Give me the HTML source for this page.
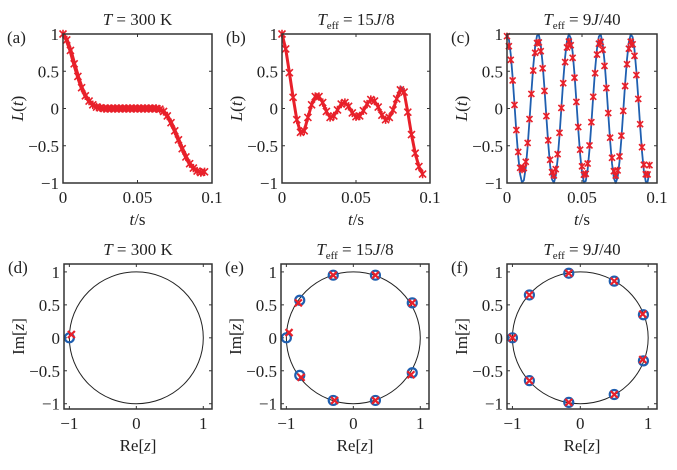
<!DOCTYPE html>
<html><head><meta charset="utf-8"><style>
html,body{margin:0;padding:0;background:#fff;}
svg{display:block;font-family:"Liberation Serif",serif;}
</style></head><body>
<svg id="fig" width="677" height="470" viewBox="0 0 677 470"></svg>
<script>
const tA=[0,.0025,.005,.0075,.01,.0125,.015,.0175,.02,.0225,.025,.0275,.03,.0325,.035,.0375,.04,.0425,.045,.0475,.05,.0525,.055,.0575,.06,.0625,.065,.0675,.07,.0725,.075,.0775,.08,.0825,.085,.0875,.09,.0925,.095];
const La=[1,.92,.78,.6,.43,.28,.17,.1,.05,.02,.01,0,0,0,0,0,0,0,0,0,0,0,0,0,0,0,-.01,-.04,-.1,-.19,-.3,-.42,-.54,-.65,-.74,-.8,-.84,-.86,-.85];
const LbRed=[1,.8,.48,.15,-.15,-.32,-.3,-.12,.05,.16,.16,.08,-.04,-.12,-.1,-.02,.06,.08,.03,-.06,-.11,-.1,-.03,.06,.12,.1,.02,-.09,-.15,-.12,-.02,.13,.25,.22,-.05,-.35,-.6,-.78,-.88];
const LbBlue=[1,.8,.48,.15,-.15,-.33,-.3,-.12,.05,.16,.16,.08,-.04,-.12,-.1,-.02,.06,.08,.03,-.06,-.11,-.1,-.03,.06,.12,.1,.02,-.09,-.15,-.12,-.02,.14,.3,.24,-.05,-.35,-.6,-.78,-.88];
const tC=[0,.00125,.0025,.00375,.005,.00625,.0075,.00875,.01,.01125,.0125,.01375,.015,.01625,.0175,.01875,.02,.02125,.0225,.02375,.025,.02625,.0275,.02875,.03,.03125,.0325,.03375,.035,.03625,.0375,.03875,.04,.04125,.0425,.04375,.045,.04625,.0475,.04875,.05,.05125,.0525,.05375,.055,.05625,.0575,.05875,.06,.06125,.0625,.06375,.065,.06625,.0675,.06875,.07,.07125,.0725,.07375,.075,.07625,.0775,.07875,.08,.08125,.0825,.08375,.085,.08625,.0875,.08875,.09,.09125,.0925,.09375,.095];
const LcBlue=[1,.929,.726,.419,.053,-.321,-.648,-.884,-.994,-.963,-.794,-.514,-.158,.218,.565,.83,.977,.986,.854,.6,.262,-.113,-.474,-.766,-.95,-.998,-.905,-.682,-.363,.009,.378,.693,.911,.999,.944,.756,.46,.098,-.277,-.614,-.862,-.988,-.974,-.821,-.551,-.203,.174,.527,.804,.967,.993,.877,.636,.306,-.069,-.434,-.736,-.935,-1,-.923,-.714,-.405,-.037,.335,.661,.892,.996,.958,.785,.499,.143,-.233,-.578,-.839,-.981,-.983,-.846];
const LcRed=[.97,.836,.653,.377,.048,-.289,-.583,-.796,-.82,-.8,-.715,-.463,-.142,.196,.509,.747,.879,.887,.769,.54,.236,-.102,-.427,-.689,-.855,-.898,-.815,-.614,-.327,.008,.34,.624,.82,.899,.85,.68,.414,.088,-.249,-.553,-.776,-.889,-.877,-.739,-.496,-.183,.157,.474,.724,.87,.894,.789,.572,.275,-.062,-.391,-.662,-.842,-.9,-.831,-.643,-.365,-.033,.302,.595,.803,.896,.862,.707,.449,.129,-.21,-.52,-.755,-.883,-.885,-.761];
const dBlueRe=[-1], dBlueIm=[0], dRedRe=[-.97], dRedIm=[.05];
const eBlueRe=[-1,-.8,-.3,.33,.88,.88,.33,-.3,-.8], eBlueIm=[0,.57,.95,.95,.53,-.53,-.95,-.95,-.57];
const eRedRe=[-.96,-.82,-.3,.33,.88,.86,.33,-.28,-.78], eRedIm=[.08,.53,.95,.95,.53,-.56,-.95,-.95,-.6];
const fBlueRe=[-1,-.75,-.17,.5,.93,.93,.5,-.17,-.75], fBlueIm=[0,.65,.98,.86,.35,-.35,-.86,-.98,-.65];
const fRedRe=[-1,-.75,-.17,.5,.92,.92,.5,-.17,-.75], fRedIm=[0,.65,.98,.86,.36,-.33,-.86,-.98,-.65];
const xTicksTop=[0,.05,.1], xTickLabTop=["0","0.05","0.1"];
const yTicksTop=[-1,-.5,0,.5,1], yTickLabTop=["\u22121","\u22120.5","0","0.5","1"];
const reTicks=[-1,0,1], reTickLab=["\u22121","0","1"];
const imTicks=[-1,-.5,0,.5,1], imTickLab=["\u22121","\u22120.5","0","0.5","1"];

const NS="http://www.w3.org/2000/svg", svgEl=document.getElementById('fig');
function mk(tag,attrs,parent){const e=document.createElementNS(NS,tag);for(const k in attrs)e.setAttribute(k,attrs[k]);(parent||svgEl).appendChild(e);return e;}
function txt(s,x,y,attrs,parent){const e=mk('text',Object.assign({x:x,y:y,'font-size':17,fill:'#222'},attrs||{}),parent);e.innerHTML=s;return e;}

function panel(p){
  const g=mk('g',{});
  
  
  const sx=v=>p.x0+(v-p.xl[0])/(p.xl[1]-p.xl[0])*(p.x1-p.x0);
  const sy=v=>p.y1-(v-p.yl[0])/(p.yl[1]-p.yl[0])*(p.y1-p.y0);
  p.xt.forEach((v,i)=>{const x=sx(v);
    mk('line',{x1:x,x2:x,y1:p.y1,y2:p.y1-3,stroke:'#333'},g);mk('line',{x1:x,x2:x,y1:p.y0,y2:p.y0+3,stroke:'#333'},g);
    const t=txt(p.xtl[i],x,p.y1+20,{'text-anchor':'middle'},g);
    });
  p.yt.forEach((v,i)=>{const y=sy(v);
    mk('line',{x1:p.x0,x2:p.x0+3,y1:y,y2:y,stroke:'#333'},g);mk('line',{x1:p.x1,x2:p.x1-3,y1:y,y2:y,stroke:'#333'},g);
    const t=txt(p.ytl[i],p.x0-4,y+6,{'text-anchor':'end'},g);
    });
  if(p.circle){const c=mk('ellipse',{cx:sx(0),cy:sy(0),rx:sx(1)-sx(0),ry:sy(0)-sy(1),fill:'none',stroke:'#222','stroke-width':1},g);
    }
  if(p.line){p.line.forEach(L=>{
    const pts=L.ys.map((v,i)=>sx(L.xs[i])+','+sy(v)).join(' ');
    const pl=mk('polyline',{points:pts,fill:'none',stroke:L.c,'stroke-width':L.w,'stroke-linejoin':'round'},g);
    });}
  if(p.stars){p.stars.forEach(S=>{S.ys.forEach((v,i)=>{const x=sx(S.xs[i]),y=sy(v),r=S.r;
    const m=mk('path',{d:`M${x-r},${y-r}L${x+r},${y+r}M${x-r},${y+r}L${x+r},${y-r}M${x},${y-r*1.2}L${x},${y+r*1.2}`,stroke:'#e8202a','stroke-width':1.6},g);
    });});}
  if(p.circ){p.circ.forEach(S=>{S.ys.forEach((v,i)=>{
    const m=mk('circle',{cx:sx(S.xs[i]),cy:sy(v),r:4.5,fill:'none',stroke:'#1f5fb0','stroke-width':2.2},g);
    });});}
  if(p.cross){p.cross.forEach(S=>{S.ys.forEach((v,i)=>{const x=sx(S.xs[i]),y=sy(v),r=3.5;
    const m=mk('path',{d:`M${x-r},${y-r}L${x+r},${y+r}M${x-r},${y+r}L${x+r},${y-r}`,stroke:'#e8202a','stroke-width':2.2},g);
    });});}
  const box=mk('rect',{x:p.x0,y:p.y0,width:p.x1-p.x0,height:p.y1-p.y0,fill:'none',stroke:'#333','stroke-width':1.5},g);
  
  const tl=txt(p.title,(p.x0+p.x1)/2,p.y0-9,{'text-anchor':'middle'},g);
  
  const lb=txt('('+p.id+')',p.x0-56,p.y0+9,{},g);
  
  const xl=txt(p.xlab,(p.x0+p.x1)/2,p.y1+42,{'text-anchor':'middle'},g);
  
  const cy=(p.y0+p.y1)/2, lx=p.x0-40;
  const yl=txt(p.ylab,lx,cy,{'text-anchor':'middle',transform:`rotate(-90 ${lx} ${cy})`},g);
  
}
const T300='<tspan font-style="italic">T</tspan> = 300 K';
const Teff=s=>'<tspan font-style="italic">T</tspan><tspan font-size="11" dy="4">eff</tspan><tspan dy="-4"> = '+s+'</tspan>';
const Lt='<tspan font-style="italic">L</tspan>(<tspan font-style="italic">t</tspan>)';
const ts='<tspan font-style="italic">t</tspan>/s';
const ReL='Re[<tspan font-style="italic">z</tspan>]', ImL='Im[<tspan font-style="italic">z</tspan>]';
const topCfg={xl:[0,.1],yl:[-1,1],y0:34,y1:183,xt:xTicksTop,xtl:xTickLabTop,yt:yTicksTop,ytl:yTickLabTop,xlab:ts,ylab:Lt};
panel(Object.assign({},topCfg,{id:'a',x0:63,x1:212,title:T300,line:[{xs:tA,ys:La,c:'#e8202a',w:4,name:'series-a-red'}],stars:[{xs:tA,ys:La,r:3.5}]}));
panel(Object.assign({},topCfg,{id:'b',x0:282,x1:430,title:Teff('15<tspan font-style="italic">J</tspan>/8'),line:[{xs:tA,ys:LbBlue,c:'#1f5fb0',w:1.5,name:'series-b-blue'},{xs:tA,ys:LbRed,c:'#e8202a',w:3,name:'series-b-red'}],stars:[{xs:tA,ys:LbRed,r:3.5}]}));
panel(Object.assign({},topCfg,{id:'c',x0:507,x1:657,title:Teff('9<tspan font-style="italic">J</tspan>/40'),line:[{xs:tC,ys:LcBlue,c:'#1f5fb0',w:1.8,name:'series-c-blue'}],stars:[{xs:tC,ys:LcRed,r:3}]}));
const botCfg={xl:[-1.08,1.13],yl:[-1.08,1.12],y0:264,y1:409,xt:reTicks,xtl:reTickLab,yt:imTicks,ytl:imTickLab,xlab:ReL,ylab:ImL,circle:true};
panel(Object.assign({},botCfg,{id:'d',x0:64,x1:212,title:T300,circ:[{xs:dBlueRe,ys:dBlueIm}],cross:[{xs:dRedRe,ys:dRedIm}]}));
panel(Object.assign({},botCfg,{id:'e',x0:281,x1:429,title:Teff('15<tspan font-style="italic">J</tspan>/8'),circ:[{xs:eBlueRe,ys:eBlueIm}],cross:[{xs:eRedRe,ys:eRedIm}]}));
panel(Object.assign({},botCfg,{id:'f',x0:507,x1:657,title:Teff('9<tspan font-style="italic">J</tspan>/40'),circ:[{xs:fBlueRe,ys:fBlueIm}],cross:[{xs:fRedRe,ys:fRedIm}]}));
</script>
</body></html>
